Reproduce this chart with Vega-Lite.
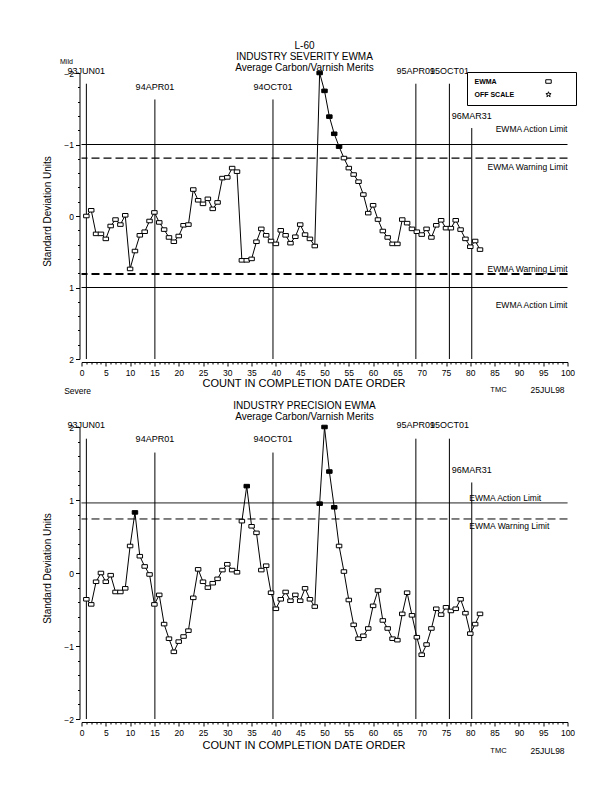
{
  "$schema": "https://vega.github.io/schema/vega-lite/v6.json",
  "autosize": {"type": "none"},
  "padding": {"left": 81.5, "top": 73, "right": 534.5, "bottom": 719},
  "background": "white",
  "bounds": "flush",
  "spacing": 68,
  "config": {
    "font": "Liberation Sans",
    "view": {"stroke": null},
    "axis": {"domainColor": "black", "tickColor": "black", "labelColor": "black", "titleColor": "black", "grid": false, "labelFont": "Liberation Sans", "titleFont": "Liberation Sans", "titleFontWeight": "normal", "domainWidth": 1, "tickWidth": 1},
    "title": {"font": "Liberation Sans", "fontWeight": "normal", "color": "black"}
  },
  "datasets": {
    "sev": [
      {"count": 1, "ewma": 0.0}, {"count": 2, "ewma": -0.08}, {"count": 3, "ewma": 0.25}, {"count": 4, "ewma": 0.25},
      {"count": 5, "ewma": 0.32}, {"count": 6, "ewma": 0.14}, {"count": 7, "ewma": 0.05}, {"count": 8, "ewma": 0.12},
      {"count": 9, "ewma": -0.01}, {"count": 10, "ewma": 0.74}, {"count": 11, "ewma": 0.49}, {"count": 12, "ewma": 0.27},
      {"count": 13, "ewma": 0.22}, {"count": 14, "ewma": 0.07}, {"count": 15, "ewma": -0.05}, {"count": 16, "ewma": 0.09},
      {"count": 17, "ewma": 0.19}, {"count": 18, "ewma": 0.30}, {"count": 19, "ewma": 0.36}, {"count": 20, "ewma": 0.28},
      {"count": 21, "ewma": 0.13}, {"count": 22, "ewma": 0.12}, {"count": 23, "ewma": -0.37}, {"count": 24, "ewma": -0.22},
      {"count": 25, "ewma": -0.17}, {"count": 26, "ewma": -0.24}, {"count": 27, "ewma": -0.10}, {"count": 28, "ewma": -0.19},
      {"count": 29, "ewma": -0.53}, {"count": 30, "ewma": -0.54}, {"count": 31, "ewma": -0.67}, {"count": 32, "ewma": -0.62},
      {"count": 33, "ewma": 0.62}, {"count": 34, "ewma": 0.62}, {"count": 35, "ewma": 0.60}, {"count": 36, "ewma": 0.36},
      {"count": 37, "ewma": 0.18}, {"count": 38, "ewma": 0.27}, {"count": 39, "ewma": 0.35}, {"count": 40, "ewma": 0.39},
      {"count": 41, "ewma": 0.20}, {"count": 42, "ewma": 0.27}, {"count": 43, "ewma": 0.38}, {"count": 44, "ewma": 0.29},
      {"count": 45, "ewma": 0.12}, {"count": 46, "ewma": 0.26}, {"count": 47, "ewma": 0.32}, {"count": 48, "ewma": 0.42},
      {"count": 49, "ewma": -2.0, "zone": "beyond"}, {"count": 50, "ewma": -1.75, "zone": "beyond"}, {"count": 51, "ewma": -1.39, "zone": "beyond"}, {"count": 52, "ewma": -1.15, "zone": "beyond"},
      {"count": 53, "ewma": -0.97, "zone": "beyond"}, {"count": 54, "ewma": -0.81}, {"count": 55, "ewma": -0.67}, {"count": 56, "ewma": -0.58},
      {"count": 57, "ewma": -0.48}, {"count": 58, "ewma": -0.30}, {"count": 59, "ewma": -0.04}, {"count": 60, "ewma": -0.15},
      {"count": 61, "ewma": 0.05}, {"count": 62, "ewma": 0.21}, {"count": 63, "ewma": 0.30}, {"count": 64, "ewma": 0.39},
      {"count": 65, "ewma": 0.39}, {"count": 66, "ewma": 0.05}, {"count": 67, "ewma": 0.10}, {"count": 68, "ewma": 0.18},
      {"count": 69, "ewma": 0.22}, {"count": 70, "ewma": 0.26}, {"count": 71, "ewma": 0.18}, {"count": 72, "ewma": 0.30},
      {"count": 73, "ewma": 0.13}, {"count": 74, "ewma": 0.06}, {"count": 75, "ewma": 0.17}, {"count": 76, "ewma": 0.17},
      {"count": 77, "ewma": 0.06}, {"count": 78, "ewma": 0.19}, {"count": 79, "ewma": 0.32}, {"count": 80, "ewma": 0.43},
      {"count": 81, "ewma": 0.35}, {"count": 82, "ewma": 0.47}
    ],
    "prec": [
      {"count": 1, "ewma": -0.36}, {"count": 2, "ewma": -0.43}, {"count": 3, "ewma": -0.12}, {"count": 4, "ewma": 0.0},
      {"count": 5, "ewma": -0.12}, {"count": 6, "ewma": -0.03}, {"count": 7, "ewma": -0.26}, {"count": 8, "ewma": -0.26},
      {"count": 9, "ewma": -0.21}, {"count": 10, "ewma": 0.37}, {"count": 11, "ewma": 0.83, "zone": "beyond"}, {"count": 12, "ewma": 0.23},
      {"count": 13, "ewma": 0.09}, {"count": 14, "ewma": -0.02}, {"count": 15, "ewma": -0.43}, {"count": 16, "ewma": -0.30},
      {"count": 17, "ewma": -0.70}, {"count": 18, "ewma": -0.90}, {"count": 19, "ewma": -1.08}, {"count": 20, "ewma": -0.94},
      {"count": 21, "ewma": -0.87}, {"count": 22, "ewma": -0.79}, {"count": 23, "ewma": -0.34}, {"count": 24, "ewma": 0.05},
      {"count": 25, "ewma": -0.12}, {"count": 26, "ewma": -0.20}, {"count": 27, "ewma": -0.14}, {"count": 28, "ewma": -0.08},
      {"count": 29, "ewma": 0.04}, {"count": 30, "ewma": 0.12}, {"count": 31, "ewma": 0.04}, {"count": 32, "ewma": 0.01},
      {"count": 33, "ewma": 0.71}, {"count": 34, "ewma": 1.19, "zone": "beyond"}, {"count": 35, "ewma": 0.64}, {"count": 36, "ewma": 0.55},
      {"count": 37, "ewma": 0.04}, {"count": 38, "ewma": 0.10}, {"count": 39, "ewma": -0.27}, {"count": 40, "ewma": -0.49},
      {"count": 41, "ewma": -0.36}, {"count": 42, "ewma": -0.26}, {"count": 43, "ewma": -0.38}, {"count": 44, "ewma": -0.30},
      {"count": 45, "ewma": -0.38}, {"count": 46, "ewma": -0.21}, {"count": 47, "ewma": -0.36}, {"count": 48, "ewma": -0.46},
      {"count": 49, "ewma": 0.95, "zone": "beyond"}, {"count": 50, "ewma": 2.0, "zone": "beyond"}, {"count": 51, "ewma": 1.39, "zone": "beyond"}, {"count": 52, "ewma": 0.90, "zone": "beyond"},
      {"count": 53, "ewma": 0.37}, {"count": 54, "ewma": 0.02}, {"count": 55, "ewma": -0.37}, {"count": 56, "ewma": -0.71},
      {"count": 57, "ewma": -0.90}, {"count": 58, "ewma": -0.86}, {"count": 59, "ewma": -0.76}, {"count": 60, "ewma": -0.45},
      {"count": 61, "ewma": -0.24}, {"count": 62, "ewma": -0.65}, {"count": 63, "ewma": -0.76}, {"count": 64, "ewma": -0.90},
      {"count": 65, "ewma": -0.92}, {"count": 66, "ewma": -0.56}, {"count": 67, "ewma": -0.27}, {"count": 68, "ewma": -0.58},
      {"count": 69, "ewma": -0.88}, {"count": 70, "ewma": -1.12}, {"count": 71, "ewma": -0.98}, {"count": 72, "ewma": -0.76},
      {"count": 73, "ewma": -0.49}, {"count": 74, "ewma": -0.57}, {"count": 75, "ewma": -0.47}, {"count": 76, "ewma": -0.52},
      {"count": 77, "ewma": -0.49}, {"count": 78, "ewma": -0.36}, {"count": 79, "ewma": -0.55}, {"count": 80, "ewma": -0.83},
      {"count": 81, "ewma": -0.70}, {"count": 82, "ewma": -0.56}
    ],
    "dates": [
      {"date": "93JUN01", "count": 1.0, "sevTop": -1.85, "sevLab": -2.03, "precTop": 1.84, "precLab": 2.03},
      {"date": "94APR01", "count": 15.1, "sevTop": -1.63, "sevLab": -1.8, "precTop": 1.65, "precLab": 1.84},
      {"date": "94OCT01", "count": 39.4, "sevTop": -1.63, "sevLab": -1.8, "precTop": 1.65, "precLab": 1.84},
      {"date": "95APR01", "count": 68.8, "sevTop": -1.85, "sevLab": -2.03, "precTop": 1.84, "precLab": 2.03},
      {"date": "95OCT01", "count": 75.7, "sevTop": -1.85, "sevLab": -2.03, "precTop": 1.84, "precLab": 2.03},
      {"date": "96MAR31", "count": 80.3, "sevTop": -1.23, "sevLab": -1.4, "precTop": 1.24, "precLab": 1.41}
    ],
    "sevLimits": [
      {"kind": "Action", "value": -1.0}, {"kind": "Action", "value": 1.0},
      {"kind": "Warning", "value": -0.81}, {"kind": "Warning", "value": 0.81}
    ],
    "precLimits": [
      {"kind": "Action", "value": 0.96}, {"kind": "Warning", "value": 0.74}
    ],
    "sevLabels": [
      {"label": "EWMA Action Limit", "at": -1.21}, {"label": "EWMA Warning Limit", "at": -0.69},
      {"label": "EWMA Warning Limit", "at": 0.74}, {"label": "EWMA Action Limit", "at": 1.25}
    ],
    "precLabels": [
      {"label": "EWMA Action Limit", "at": 1.03}, {"label": "EWMA Warning Limit", "at": 0.64}
    ]
  },
  "vconcat": [
    {
      "width": 486,
      "height": 286,
      "title": {"text": ["L-60", "INDUSTRY SEVERITY EWMA", "Average Carbon/Varnish Merits"], "fontSize": 10, "lineHeight": 11, "anchor": "middle", "dx": -20, "offset": 2, "dy": 17},
      "resolve": {"axis": {"x": "independent", "y": "independent"}},
      "layer": [
        {
          "data": {"name": "sevLimits"},
          "transform": [{"filter": "datum.kind === 'Action'"}],
          "mark": {"type": "rule", "color": "black", "strokeWidth": 1},
          "encoding": {"y": {"field": "value", "type": "quantitative", "axis": null}}
        },
        {
          "data": {"name": "sevLimits"},
          "transform": [{"filter": "datum.kind === 'Warning'"}],
          "mark": {"type": "rule", "color": "black", "strokeDash": [8, 4]},
          "encoding": {
            "y": {"field": "value", "type": "quantitative", "axis": null},
            "strokeWidth": {"condition": {"test": "datum.value > 0", "value": 2}, "value": 1.2}
          }
        },
        {
          "data": {"name": "dates"},
          "mark": {"type": "rule", "color": "black", "strokeWidth": 1},
          "encoding": {
            "x": {"field": "count", "type": "quantitative", "axis": null},
            "y": {"field": "sevTop", "type": "quantitative", "axis": null},
            "y2": {"datum": 2}
          }
        },
        {
          "data": {"name": "dates"},
          "mark": {"type": "text", "fontSize": 9, "color": "black", "align": "center", "baseline": "middle"},
          "encoding": {
            "x": {"field": "count", "type": "quantitative", "axis": null},
            "y": {"field": "sevLab", "type": "quantitative", "axis": null},
            "text": {"field": "date"}
          }
        },
        {
          "data": {"name": "sev"},
          "mark": {"type": "line", "color": "black", "strokeWidth": 1},
          "encoding": {
            "x": {"field": "count", "type": "quantitative", "scale": {"domain": [0, 100], "nice": false, "zero": false},
              "axis": {"orient": "bottom", "values": [0, 5, 10, 15, 20, 25, 30, 35, 40, 45, 50, 55, 60, 65, 70, 75, 80, 85, 90, 95, 100], "format": "d", "title": "COUNT IN COMPLETION DATE ORDER", "titleFontSize": 11, "titleX": 222, "titleY": 21, "titleBaseline": "middle", "labelFontSize": 8.5, "labelPadding": 2, "tickSize": 4, "offset": 3, "labelOverlap": false, "labelFlush": false}},
            "y": {"field": "ewma", "type": "quantitative", "scale": {"domain": [-2, 2], "reverse": true, "nice": false, "zero": false},
              "axis": {"orient": "left", "values": [-2, -1, 0, 1, 2], "format": "d", "title": "Standard Deviation Units", "titleFontSize": 10, "titleX": -32, "titleY": 138, "titleBaseline": "middle", "labelFontSize": 8.5, "labelPadding": 2, "tickSize": 4, "offset": 2}}
          }
        },
        {
          "data": {"name": "sev"},
          "mark": {"type": "point", "filled": true, "stroke": "black", "strokeWidth": 1, "size": 30, "opacity": 1},
          "encoding": {
            "x": {"field": "count", "type": "quantitative",
              "axis": {"orient": "bottom", "values": [1, 2, 3, 4, 6, 7, 8, 9, 11, 12, 13, 14, 16, 17, 18, 19, 21, 22, 23, 24, 26, 27, 28, 29, 31, 32, 33, 34, 36, 37, 38, 39, 41, 42, 43, 44, 46, 47, 48, 49, 51, 52, 53, 54, 56, 57, 58, 59, 61, 62, 63, 64, 66, 67, 68, 69, 71, 72, 73, 74, 76, 77, 78, 79, 81, 82, 83, 84, 86, 87, 88, 89, 91, 92, 93, 94, 96, 97, 98, 99], "labels": false, "domain": false, "tickSize": 2, "title": null, "offset": 3}},
            "y": {"field": "ewma", "type": "quantitative",
              "axis": {"orient": "left", "values": [-1.8, -1.6, -1.4, -1.2, -0.8, -0.6, -0.4, -0.2, 0.2, 0.4, 0.6, 0.8, 1.2, 1.4, 1.6, 1.8], "labels": false, "domain": false, "tickSize": 2, "title": null, "offset": 2}},
            "shape": {"datum": "EWMA",
              "scale": {"domain": ["EWMA", "OFF SCALE"], "range": ["M-1,-0.65H1V0.65H-1Z", "M0,-1L0.235,-0.324L0.951,-0.309L0.38,0.124L0.588,0.809L0,0.4L-0.588,0.809L-0.38,0.124L-0.951,-0.309L-0.235,-0.324Z"]},
              "legend": {"title": " ", "titleOrient": "right", "titlePadding": 17, "titleFontSize": 7, "orient": "none", "legendX": 385.5, "legendY": -1, "strokeColor": "black", "padding": 6, "labelFontSize": 7, "labelFontWeight": "bold", "labelColor": "black", "symbolOffset": 72, "labelOffset": -77.5, "rowPadding": 3, "symbolSize": 30, "symbolStrokeWidth": 1, "fillColor": "white"}},
            "fill": {"condition": {"test": "datum.zone === 'beyond'", "value": "black"}, "value": "white"}
          }
        },
        {
          "data": {"name": "sevLabels"},
          "mark": {"type": "text", "fontSize": 8.5, "color": "black", "align": "right", "baseline": "middle"},
          "encoding": {
            "x": {"datum": 100, "type": "quantitative", "axis": null},
            "y": {"field": "at", "type": "quantitative", "axis": null},
            "text": {"field": "label"}
          }
        },
        {
          "data": {"values": [{}]},
          "mark": {"type": "text", "text": "Mild", "fontSize": 7, "color": "black", "align": "center", "baseline": "middle"},
          "encoding": {"x": {"datum": -3.1, "type": "quantitative", "axis": null}, "y": {"datum": -2.16, "type": "quantitative", "axis": null}}
        },
        {
          "data": {"values": [{}]},
          "mark": {"type": "text", "text": "Severe", "fontSize": 8.5, "color": "black", "align": "center", "baseline": "middle"},
          "encoding": {"x": {"datum": -0.8, "type": "quantitative", "axis": null}, "y": {"datum": 2.45, "type": "quantitative", "axis": null}}
        },
        {
          "data": {"values": [{}]},
          "mark": {"type": "text", "text": "TMC", "fontSize": 7.5, "color": "black", "align": "center", "baseline": "middle"},
          "encoding": {"x": {"datum": 85.8, "type": "quantitative", "axis": null}, "y": {"datum": 2.44, "type": "quantitative", "axis": null}}
        },
        {
          "data": {"values": [{}]},
          "mark": {"type": "text", "text": "25JUL98", "fontSize": 8.5, "color": "black", "align": "center", "baseline": "middle"},
          "encoding": {"x": {"datum": 95.9, "type": "quantitative", "axis": null}, "y": {"datum": 2.44, "type": "quantitative", "axis": null}}
        }
      ]
    },
    {
      "width": 486,
      "height": 292,
      "title": {"text": ["INDUSTRY PRECISION EWMA", "Average Carbon/Varnish Merits"], "fontSize": 10, "lineHeight": 11, "anchor": "middle", "dx": -20, "offset": 2, "dy": 3},
      "resolve": {"axis": {"x": "independent", "y": "independent"}},
      "layer": [
        {
          "data": {"name": "precLimits"},
          "mark": {"type": "rule", "color": "black", "strokeWidth": 1},
          "encoding": {
            "y": {"field": "value", "type": "quantitative", "axis": null},
            "strokeDash": {"condition": {"test": "datum.kind === 'Warning'", "value": [8, 4]}, "value": [1, 0]}
          }
        },
        {
          "data": {"name": "dates"},
          "mark": {"type": "rule", "color": "black", "strokeWidth": 1},
          "encoding": {
            "x": {"field": "count", "type": "quantitative", "axis": null},
            "y": {"field": "precTop", "type": "quantitative", "axis": null},
            "y2": {"datum": -2}
          }
        },
        {
          "data": {"name": "dates"},
          "mark": {"type": "text", "fontSize": 9, "color": "black", "align": "center", "baseline": "middle"},
          "encoding": {
            "x": {"field": "count", "type": "quantitative", "axis": null},
            "y": {"field": "precLab", "type": "quantitative", "axis": null},
            "text": {"field": "date"}
          }
        },
        {
          "data": {"name": "prec"},
          "mark": {"type": "line", "color": "black", "strokeWidth": 1},
          "encoding": {
            "x": {"field": "count", "type": "quantitative", "scale": {"domain": [0, 100], "nice": false, "zero": false},
              "axis": {"orient": "bottom", "values": [0, 5, 10, 15, 20, 25, 30, 35, 40, 45, 50, 55, 60, 65, 70, 75, 80, 85, 90, 95, 100], "format": "d", "title": "COUNT IN COMPLETION DATE ORDER", "titleFontSize": 11, "titleX": 222, "titleY": 23, "titleBaseline": "middle", "labelFontSize": 8.5, "labelPadding": 2, "tickSize": 4, "offset": 3, "labelOverlap": false, "labelFlush": false}},
            "y": {"field": "ewma", "type": "quantitative", "scale": {"domain": [-2, 2], "nice": false, "zero": false},
              "axis": {"orient": "left", "values": [-2, -1, 0, 1, 2], "format": "d", "title": "Standard Deviation Units", "titleFontSize": 10, "titleX": -32, "titleY": 141, "titleBaseline": "middle", "labelFontSize": 8.5, "labelPadding": 2, "tickSize": 4, "offset": 2}}
          }
        },
        {
          "data": {"name": "prec"},
          "mark": {"type": "point", "filled": true, "stroke": "black", "strokeWidth": 1, "size": 30, "opacity": 1, "shape": "M-1,-0.65H1V0.65H-1Z"},
          "encoding": {
            "x": {"field": "count", "type": "quantitative",
              "axis": {"orient": "bottom", "values": [1, 2, 3, 4, 6, 7, 8, 9, 11, 12, 13, 14, 16, 17, 18, 19, 21, 22, 23, 24, 26, 27, 28, 29, 31, 32, 33, 34, 36, 37, 38, 39, 41, 42, 43, 44, 46, 47, 48, 49, 51, 52, 53, 54, 56, 57, 58, 59, 61, 62, 63, 64, 66, 67, 68, 69, 71, 72, 73, 74, 76, 77, 78, 79, 81, 82, 83, 84, 86, 87, 88, 89, 91, 92, 93, 94, 96, 97, 98, 99], "labels": false, "domain": false, "tickSize": 2, "title": null, "offset": 3}},
            "y": {"field": "ewma", "type": "quantitative",
              "axis": {"orient": "left", "values": [-1.8, -1.6, -1.4, -1.2, -0.8, -0.6, -0.4, -0.2, 0.2, 0.4, 0.6, 0.8, 1.2, 1.4, 1.6, 1.8], "labels": false, "domain": false, "tickSize": 2, "title": null, "offset": 2}},
            "fill": {"condition": {"test": "datum.zone === 'beyond'", "value": "black"}, "value": "white"}
          }
        },
        {
          "data": {"name": "precLabels"},
          "mark": {"type": "text", "fontSize": 8.5, "color": "black", "align": "left", "baseline": "middle"},
          "encoding": {
            "x": {"datum": 79.8, "type": "quantitative", "axis": null},
            "y": {"field": "at", "type": "quantitative", "axis": null},
            "text": {"field": "label"}
          }
        },
        {
          "data": {"values": [{}]},
          "mark": {"type": "text", "text": "TMC", "fontSize": 7.5, "color": "black", "align": "center", "baseline": "middle"},
          "encoding": {"x": {"datum": 85.8, "type": "quantitative", "axis": null}, "y": {"datum": -2.44, "type": "quantitative", "axis": null}}
        },
        {
          "data": {"values": [{}]},
          "mark": {"type": "text", "text": "25JUL98", "fontSize": 8.5, "color": "black", "align": "center", "baseline": "middle"},
          "encoding": {"x": {"datum": 95.9, "type": "quantitative", "axis": null}, "y": {"datum": -2.44, "type": "quantitative", "axis": null}}
        }
      ]
    }
  ]
}
